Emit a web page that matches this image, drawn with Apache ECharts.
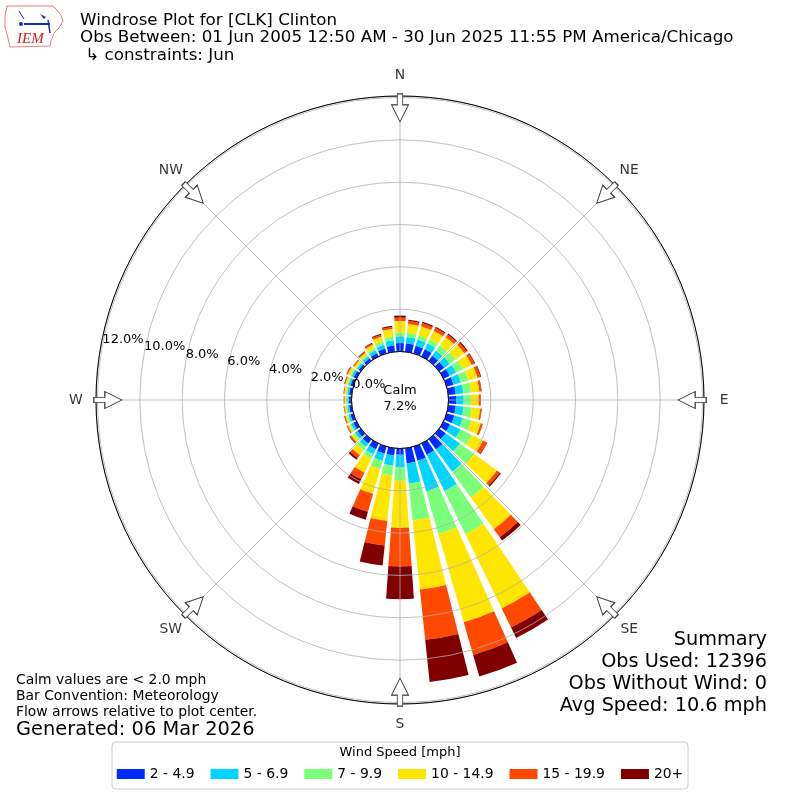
<!DOCTYPE html>
<html><head><meta charset="utf-8">
<script src="https://cdn.jsdelivr.net/npm/echarts@6/dist/echarts.min.js"></script>
<style>html,body{margin:0;padding:0;background:#fff}#c{width:800px;height:800px}</style>
</head><body><div id="c"></div>
<script>
// ---- data ----
const directions = [0,10,20,30,40,50,60,70,80,90,100,110,120,130,140,150,160,170,180,190,200,210,220,230,240,250,260,270,280,290,300,310,320,330,340,350];
const speedBins = ['2 - 4.9','5 - 6.9','7 - 9.9','10 - 14.9','15 - 19.9','20+'];
const binColors = ['#002bff','#00d4ff','#7bff7b','#ffe600','#ff4800','#800000'];
const bin2to5   = [0.40,0.40,0.38,0.38,0.30,0.30,0.32,0.34,0.36,0.36,0.36,0.38,0.34,0.38,0.60,0.59,0.70,0.72,0.30,0.35,0.35,0.30,0.25,0.20,0.17,0.15,0.13,0.12,0.13,0.14,0.15,0.13,0.15,0.18,0.24,0.30];
const bin5to7   = [0.32,0.30,0.30,0.30,0.30,0.32,0.34,0.36,0.36,0.36,0.38,0.42,0.55,0.82,1.30,1.91,1.50,0.96,0.60,0.48,0.34,0.27,0.20,0.14,0.12,0.10,0.09,0.08,0.09,0.10,0.11,0.09,0.12,0.15,0.20,0.25];
const bin7to10  = [0.18,0.20,0.20,0.22,0.30,0.34,0.36,0.36,0.36,0.35,0.38,0.42,0.60,0.83,1.50,2.26,2.09,1.75,0.62,0.47,0.41,0.23,0.18,0.10,0.08,0.07,0.06,0.06,0.06,0.07,0.08,0.07,0.08,0.11,0.14,0.18];
const bin10to15 = [0.54,0.42,0.45,0.44,0.48,0.50,0.46,0.46,0.40,0.36,0.40,0.46,0.58,1.34,1.85,3.91,4.34,3.28,2.23,2.15,1.22,0.73,0.30,0.12,0.09,0.08,0.07,0.07,0.08,0.09,0.12,0.10,0.12,0.17,0.25,0.35];
const bin15to20 = [0.16,0.14,0.16,0.16,0.15,0.15,0.14,0.14,0.09,0.08,0.06,0.08,0.20,0.16,0.47,1.00,1.61,2.39,1.82,1.17,0.88,0.35,0.17,0.07,0.04,0.04,0.03,0.03,0.03,0.04,0.05,0.04,0.05,0.07,0.09,0.10];
const bin20plus = [0.10,0.06,0.06,0.06,0.06,0.06,0.04,0.04,0.02,0.02,0.02,0.02,0.03,0.07,0.20,0.55,1.06,2.00,1.55,0.95,0.39,0.25,0.10,0.03,0.02,0.02,0.01,0.01,0.01,0.02,0.02,0.02,0.03,0.04,0.05,0.05];
const binValues = [bin2to5,bin5to7,bin7to10,bin10to15,bin15to20,bin20plus];
const compassAngles = [0,45,90,135,180,225,270,315];
const compassLabels = ['N','NE','E','SE','S','SW','W','NW'];
const radiusTicks = [0,2,4,6,8,10,12];
const calmPct = '7.2%';
const titleLines = ['Windrose Plot for [CLK] Clinton','Obs Between: 01 Jun 2005 12:50 AM - 30 Jun 2025 11:55 PM America/Chicago',' \u21b3 constraints: Jun'];
const summaryLines = ['Summary','Obs Used: 12396','Obs Without Wind: 0','Avg Speed: 10.6 mph'];
const noteLines = ['Calm values are < 2.0 mph','Bar Convention: Meteorology','Flow arrows relative to plot center.'];
const generatedLine = 'Generated: 06 Mar 2026';

// ---- layout ----
const R0 = 48.5, R1 = 304, RMAX = 12.07;
const FF = 'DejaVu Sans';
const chart = echarts.init(document.getElementById('c'));

const series = speedBins.map((name,i)=>({
  name, type:'bar', coordinateSystem:'polar', polarIndex:0, stack:'wind',
  data: binValues[i], barCategoryGap:'20%', itemStyle:{color:binColors[i]}, z:2, silent:true
}));
// direction arrows on the rim
series.push({
  type:'scatter', coordinateSystem:'polar', polarIndex:1, z:20, silent:true,
  symbol:'path://M-2.7,0 L2.7,0 L2.7,11 L8.5,11 L0,28 L-8.5,11 L-2.7,11 Z',
  symbolSize:[17,28],
  itemStyle:{color:'#fff', borderColor:'#333', borderWidth:1, opacity:1},
  data: compassAngles.map(a=>({value:[11.51,a], symbolRotate:-a}))
});
// compass labels, centred outside the rim
series.push({
  type:'scatter', coordinateSystem:'polar', polarIndex:1, z:20, silent:true, clip:false,
  symbol:'circle', symbolSize:1, itemStyle:{color:'rgba(0,0,0,0)'},
  label:{show:true, position:'inside', color:'#000', fontSize:13.9, fontFamily:FF,
    formatter:p=>compassLabels[p.dataIndex]},
  data: compassAngles.map(a=>[13.02,a])
});

const graphics = [];
graphics.push({type:'circle', shape:{cx:400,cy:400,r:R0}, style:{fill:'#fff',stroke:'#000',lineWidth:1}, z:50});
graphics.push({type:'text', style:{text:'Calm', x:400, y:391, font:'13px '+FF, fill:'#000', textAlign:'center', textVerticalAlign:'middle'}, z:51});
graphics.push({type:'text', style:{text:calmPct, x:400, y:407, font:'13px '+FF, fill:'#000', textAlign:'center', textVerticalAlign:'middle'}, z:51});
titleLines.forEach((t,i)=>graphics.push({type:'text', style:{text:t, x:80, y:20.5+i*17.5, font:'16.7px '+FF, fill:'#000', textAlign:'left', textVerticalAlign:'middle'}, z:51}));
summaryLines.forEach((t,i)=>graphics.push({type:'text', style:{text:t, x:767, y:640+i*22, font:'19.3px '+FF, fill:'#000', textAlign:'right', textVerticalAlign:'middle'}, z:51}));
noteLines.forEach((t,i)=>graphics.push({type:'text', style:{text:t, x:16, y:680+i*16, font:'13.9px '+FF, fill:'#000', textAlign:'left', textVerticalAlign:'middle'}, z:51}));
graphics.push({type:'text', style:{text:generatedLine, x:16, y:730, font:'19.4px '+FF, fill:'#000', textAlign:'left', textVerticalAlign:'middle'}, z:51});
// legend box + title
graphics.push({type:'rect', shape:{x:112,y:742,width:576,height:47,r:4}, style:{fill:'rgba(255,255,255,0.8)',stroke:'#cccccc',lineWidth:1}, z:0});
graphics.push({type:'text', style:{text:'Wind Speed [mph]', x:400, y:753, font:'13px '+FF, fill:'#000', textAlign:'center', textVerticalAlign:'middle'}, z:51});
// IEM logo (decorative)
graphics.push({type:'polygon', shape:{points:[[7,6],[53,6],[57,10],[61,15],[63,21],[59,28],[54,33],[51,41],[50,46],[10,47],[8,38],[5,27],[5,16],[7,6]]}, style:{fill:'#fff',stroke:'#e08080',lineWidth:1}, z:51});
graphics.push({type:'line', shape:{x1:24,y1:24,x2:50,y2:24}, style:{stroke:'#1030c0',lineWidth:2}, z:52});
graphics.push({type:'line', shape:{x1:19,y1:11,x2:24,y2:19}, style:{stroke:'#1030c0',lineWidth:1}, z:52});
graphics.push({type:'polygon', shape:{points:[[40,14],[46,17],[44,19]]}, style:{fill:'#1030c0'}, z:52});
graphics.push({type:'line', shape:{x1:48,y1:20,x2:50,y2:33}, style:{stroke:'#1030c0',lineWidth:1.5}, z:52});
graphics.push({type:'circle', shape:{cx:21,cy:24,r:2}, style:{fill:'#1030c0'}, z:52});
graphics.push({type:'text', style:{text:'IEM', x:17, y:39, font:'italic 15px "Liberation Serif"', fill:'#d02020', textAlign:'left', textVerticalAlign:'middle'}, z:52});

const option = {
  animation:false,
  backgroundColor:'#fff',
  textStyle:{fontFamily:FF},
  polar:[
    {center:['50%','50%'], radius:[R0,R1]},
    {center:['50%','50%'], radius:[R0,R1]},
    {center:['50%','50%'], radius:[R0,R1]}
  ],
  angleAxis:[
    {polarIndex:0, type:'category', data:directions.map(String), startAngle:95, clockwise:true,
     axisLine:{show:false}, axisTick:{show:false}, axisLabel:{show:false}, splitLine:{show:false}},
    {polarIndex:1, type:'value', min:0, max:360, interval:45, startAngle:90, clockwise:true, z:5,
     axisLine:{show:true, lineStyle:{color:'#000', width:1}}, axisTick:{show:false},
     axisLabel:{show:false},
     splitLine:{show:true, lineStyle:{color:'#b0b0b0', width:0.8}}},
    {polarIndex:2, type:'value', min:0, max:360, startAngle:169.7, clockwise:true, show:false}
  ],
  radiusAxis:[
    {polarIndex:0, type:'value', min:0, max:RMAX, show:false},
    {polarIndex:1, type:'value', min:0, max:RMAX, interval:2, z:5,
     axisLine:{show:false}, axisTick:{show:false}, axisLabel:{show:false},
     splitLine:{show:true, lineStyle:{color:'#b0b0b0', width:0.8}}},
    {polarIndex:2, type:'value', min:0, max:RMAX, interval:2, z:55,
     axisLine:{show:false}, axisTick:{show:false}, splitLine:{show:false},
     axisLabel:{show:true, margin:0, rotate:0, align:'left', verticalAlign:'bottom', fontSize:13, color:'#000', fontFamily:FF,
       formatter:v=>radiusTicks.indexOf(Math.round(v*100)/100)>=0 ? v.toFixed(1)+'%' : ''}}
  ],
  legend:{data:speedBins, left:'center', top:767, padding:0, itemWidth:28, itemHeight:10, itemGap:16, icon:'rect',
    textStyle:{fontSize:13.9, color:'#000', fontFamily:FF}, selectedMode:false},
  series,
  graphic:{elements:graphics}
};
chart.setOption(option);
</script></body></html>
